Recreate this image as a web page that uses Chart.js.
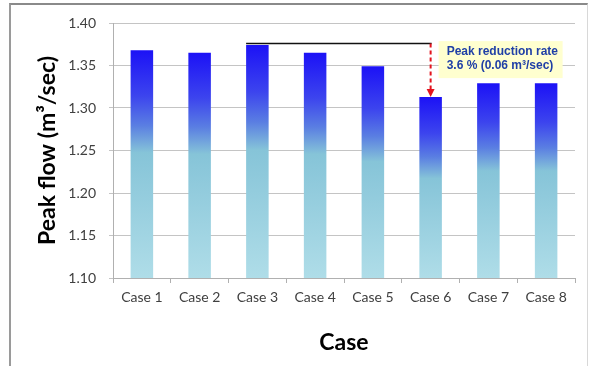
<!DOCTYPE html>
<html>
<head>
<meta charset="utf-8">
<script src="https://cdn.jsdelivr.net/npm/chart.js@4/dist/chart.umd.min.js"></script>
<style>
  html, body { margin: 0; padding: 0; background: #ffffff; }
  #wrap { position: relative; width: 591px; height: 366px; overflow: hidden; }
  #frame {
    position: absolute; left: 9px; top: 3px; width: 576px; height: 400px;
    border-top: 2px solid #8a8a8a; border-left: 2px solid #9a9a9a; border-right: 1px solid #d8d8d8;
  }
  canvas { position: absolute; left: 0; top: 0; }
</style>
</head>
<body>
<div id="wrap">
  <div id="frame"></div>
  <canvas id="c" width="591" height="366"></canvas>
</div>
<script>
// Peak flow for each simulated case
const categories = ['Case 1', 'Case 2', 'Case 3', 'Case 4', 'Case 5', 'Case 6', 'Case 7', 'Case 8'];
const peakFlow = [1.368, 1.365, 1.374, 1.365, 1.349, 1.313, 1.329, 1.329];
const yTicks = [1.10, 1.15, 1.20, 1.25, 1.30, 1.35, 1.40];

// Reduction note: from the highest case down to the lowest
const referenceIndex = 2;
const reducedIndex = 5;
const noteLines = ['Peak reduction rate', '3.6 % (0.06 m\u00b3/sec)'];

const yTitle = 'Peak flow (m\u00b3/sec)';
const xTitle = 'Case';

// Vertical gradient fill for each bar, from its top down to the axis
function barFill(ctx) {
  const chart = ctx.chart;
  const y = chart.scales.y;
  if (!chart.chartArea || !y || ctx.raw == null) return '#6fa8dc';
  const top = y.getPixelForValue(ctx.raw);
  const bottom = y.getPixelForValue(y.min);
  const g = chart.ctx.createLinearGradient(0, top, 0, bottom);
  g.addColorStop(0.00, '#1c12f6');
  g.addColorStop(0.20, '#3c44ee');
  g.addColorStop(0.33, '#5a7ee2');
  g.addColorStop(0.45, '#86c4d8');
  g.addColorStop(1.00, '#afdde8');
  return g;
}

// Draws the bracket line, dashed arrow and callout box
const reductionNote = {
  id: 'reductionNote',
  afterDatasetsDraw(chart) {
    const ctx = chart.ctx;
    const y = chart.scales.y;
    const bars = chart.getDatasetMeta(0).data;
    const refBar = bars[referenceIndex];
    const lowBar = bars[reducedIndex];
    const lineY = y.getPixelForValue(peakFlow[referenceIndex]) - 1.5;
    const x0 = refBar.x - refBar.width / 2;
    const x1 = lowBar.x;
    const tipY = y.getPixelForValue(peakFlow[reducedIndex]);

    ctx.save();
    // horizontal bracket
    ctx.strokeStyle = '#111111';
    ctx.lineWidth = 1.5;
    ctx.beginPath();
    ctx.moveTo(x0, lineY);
    ctx.lineTo(x1 + 1, lineY);
    ctx.stroke();

    // dashed arrow shaft
    ctx.strokeStyle = '#e3141e';
    ctx.lineWidth = 2;
    ctx.setLineDash([4, 3]);
    ctx.beginPath();
    ctx.moveTo(x1, lineY);
    ctx.lineTo(x1, tipY - 6);
    ctx.stroke();
    ctx.setLineDash([]);
    // arrow head
    ctx.fillStyle = '#e3141e';
    ctx.beginPath();
    ctx.moveTo(x1 - 4, tipY - 8);
    ctx.lineTo(x1 + 4, tipY - 8);
    ctx.lineTo(x1, tipY);
    ctx.closePath();
    ctx.fill();

    // callout box
    const bx = x1 + 8, by = lineY - 2.5, bw = 124, bh = 37;
    ctx.fillStyle = '#ffffcf';
    ctx.fillRect(bx, by, bw, bh);
    ctx.fillStyle = '#1f3fa6';
    ctx.font = 'bold 12px "Liberation Sans", Arial, sans-serif';
    ctx.textAlign = 'left';
    ctx.textBaseline = 'middle';
    ctx.fillText(noteLines[0], bx + 8, by + 11);
    ctx.fillText(noteLines[1], bx + 8, by + 25);
    ctx.restore();
  }
};

const tickFont = { family: 'Lato, "Open Sans", sans-serif', size: 14 };
const titleFont = { family: 'Lato, "Open Sans", sans-serif', size: 23, weight: 'bold' };

new Chart(document.getElementById('c'), {
  type: 'bar',
  data: {
    labels: categories,
    datasets: [{
      data: peakFlow,
      backgroundColor: barFill,
      borderWidth: 0,
      categoryPercentage: 1,
      barPercentage: 0.39
    }]
  },
  options: {
    responsive: false,
    animation: false,
    events: [],
    layout: { padding: { left: 0, top: 23, right: 16, bottom: 0 } },
    plugins: { legend: { display: false }, tooltip: { enabled: false } },
    scales: {
      x: {
        grid: { offset: true, drawOnChartArea: false, drawTicks: true, tickLength: 5, color: '#b0b0b0' },
        border: { display: true, color: '#b0b0b0', width: 1 },
        ticks: { color: '#404040', font: tickFont, padding: 6, maxRotation: 0 },
        title: { display: true, text: xTitle, color: '#000000', font: titleFont, padding: { top: 0, bottom: 10 } },
        afterFit(scale) { scale.height = 88; }
      },
      y: {
        min: 1.10,
        max: 1.40,
        afterBuildTicks(scale) { scale.ticks = yTicks.map(v => ({ value: v })); },
        grid: { color: '#c4c4c4', tickLength: 4, drawTicks: true },
        border: { display: true, color: '#b0b0b0', width: 1 },
        ticks: {
          color: '#404040', font: tickFont, padding: 13,
          callback: v => Number(v).toFixed(2)
        },
        title: { display: true, text: yTitle, color: '#000000', font: titleFont, padding: { top: 34, bottom: 0 } },
        afterFit(scale) { scale.width = 113; }
      }
    }
  },
  plugins: [reductionNote]
});
</script>
</body>
</html>
